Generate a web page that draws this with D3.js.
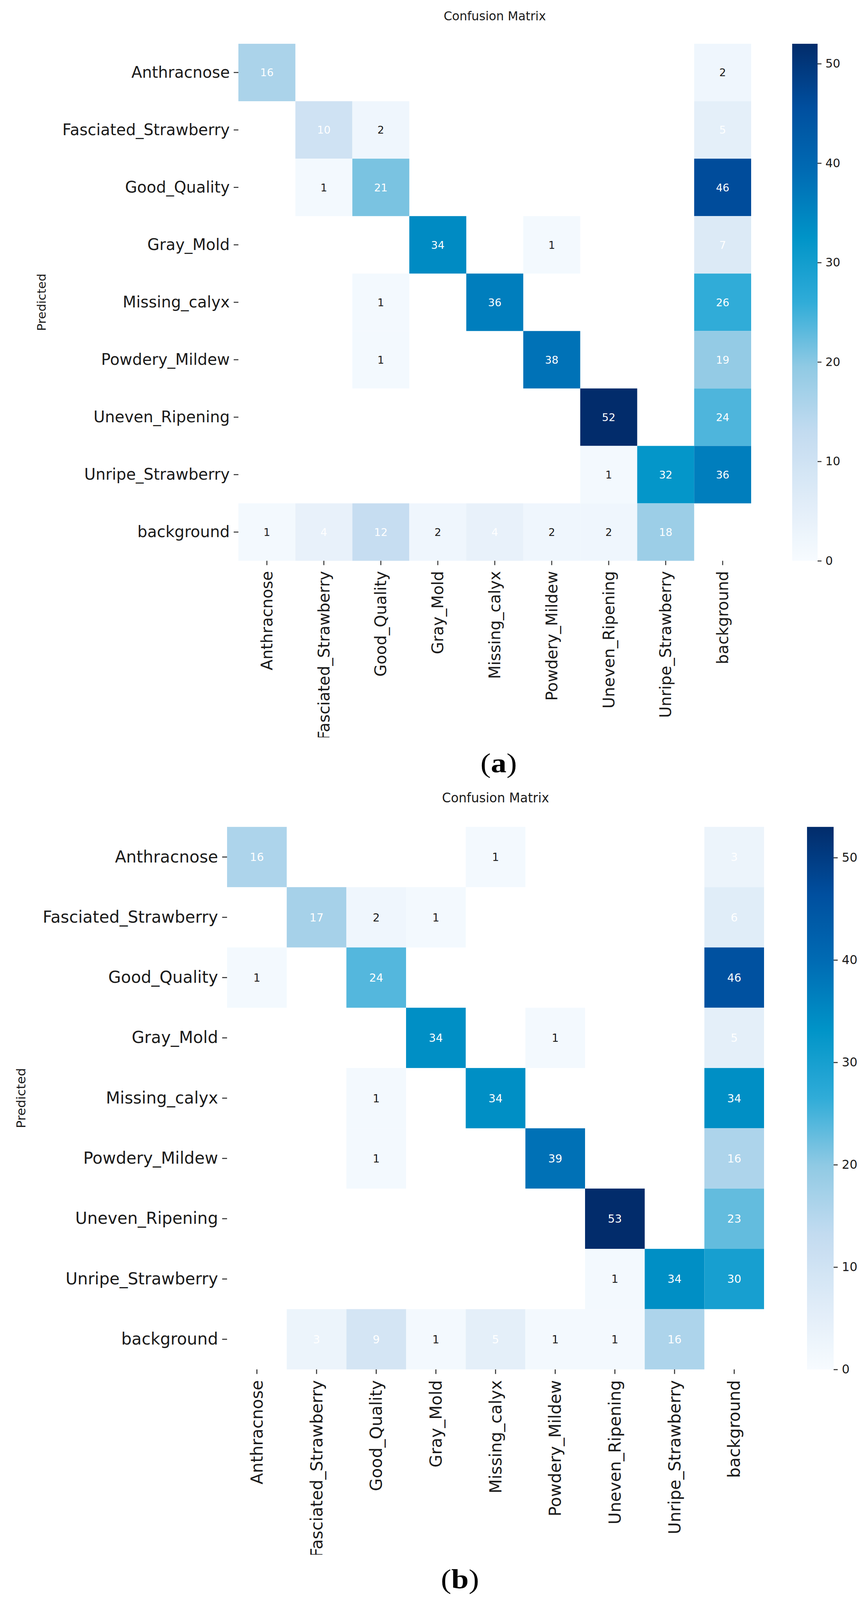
<!DOCTYPE html>
<html>
<head>
<meta charset="utf-8">
<script src="https://cdnjs.cloudflare.com/ajax/libs/d3/7.8.5/d3.min.js"></script>
<style>
  html, body { margin: 0; padding: 0; background: #fff; overflow: hidden; }
  svg { display: block; width: 100vw; height: 100vh; }
  text { font-family: "DejaVu Sans", sans-serif; }
  text.caption { font-family: "Liberation Serif", "DejaVu Serif", serif; }
</style>
</head>
<body>
<svg id="chart" viewBox="0 0 2221 4642" preserveAspectRatio="none"></svg>
<script>

// class names (rows = predicted, columns = true)
var classes = ["Anthracnose", "Fasciated_Strawberry", "Good_Quality", "Gray_Mold", "Missing_calyx",
               "Powdery_Mildew", "Uneven_Ripening", "Unripe_Strawberry", "background"];

// panel (a)
var matrixA = [
    [16, 0, 0, 0, 0, 0, 0, 0, 2],
    [0, 10, 2, 0, 0, 0, 0, 0, 5],
    [0, 1, 21, 0, 0, 0, 0, 0, 46],
    [0, 0, 0, 34, 0, 1, 0, 0, 7],
    [0, 0, 1, 0, 36, 0, 0, 0, 26],
    [0, 0, 1, 0, 0, 38, 0, 0, 19],
    [0, 0, 0, 0, 0, 0, 52, 0, 24],
    [0, 0, 0, 0, 0, 0, 1, 32, 36],
    [1, 4, 12, 2, 4, 2, 2, 18, 0]
];

// panel (b)
var matrixB = [
    [16, 0, 0, 0, 1, 0, 0, 0, 3],
    [0, 17, 2, 1, 0, 0, 0, 0, 6],
    [1, 0, 24, 0, 0, 0, 0, 0, 46],
    [0, 0, 0, 34, 0, 1, 0, 0, 5],
    [0, 0, 1, 0, 34, 0, 0, 0, 34],
    [0, 0, 1, 0, 0, 39, 0, 0, 16],
    [0, 0, 0, 0, 0, 0, 53, 0, 23],
    [0, 0, 0, 0, 0, 0, 1, 34, 30],
    [0, 3, 9, 1, 5, 1, 1, 16, 0]
];

var colorbarTicks = [0, 10, 20, 30, 40, 50];

// Blues, a bit more saturated like the printed figure
var blueStops = ["#f7fbff", "#deebf7", "#c2dbf0", "#90cae4", "#30acd8",
                 "#0094c8", "#006cb4", "#004f9f", "#022c6b"];

var svg = d3.select("#chart");
svg.append("rect").attr("width", 2221).attr("height", 4642).attr("fill", "#fff");
var defs = svg.append("defs");

drawMatrix({id: "a", data: matrixA, left: 610, top: 127, width: 1312, height: 1500, capX: 1276, capY: 2240});
drawMatrix({id: "b", data: matrixB, left: 581, top: 2399, width: 1374, height: 1574, capX: 1177, capY: 4608});

function drawMatrix(p) {
    // everything is drawn in a square "native" frame, then stretched like the figure
    var size = 1312,
        k = p.width / size,
        ky = p.height / p.width;

    defs.append("clipPath").attr("id", "clip-" + p.id)
        .append("rect")
        .attr("x", -640).attr("y", -160)
        .attr("width", 2400).attr("height", 1920);

    var g = svg.append("g")
        .attr("transform", "translate(" + p.left + "," + p.top + ") scale(" + k + "," + (k * ky) + ")")
        .append("g")
        .attr("clip-path", "url(#clip-" + p.id + ")");

    var vmax = d3.max(p.data, function (row) { return d3.max(row); });

    var color = d3.scaleLinear()
        .domain(blueStops.map(function (c, i) { return vmax * i / (blueStops.length - 1); }))
        .range(blueStops)
        .interpolate(d3.interpolateRgb);

    var x = d3.scaleBand().domain(classes).range([0, size]),
        y = d3.scaleBand().domain(classes).range([0, size]);

    var cells = [];
    p.data.forEach(function (row, i) {
        row.forEach(function (v, j) {
            if (v > 0) cells.push({pred: classes[i], truth: classes[j], value: v});
        });
    });

    g.selectAll(".cell")
        .data(cells)
        .enter().append("rect")
        .attr("class", "cell")
        .attr("x", function (d) { return x(d.truth); })
        .attr("y", function (d) { return y(d.pred); })
        .attr("width", x.bandwidth())
        .attr("height", y.bandwidth())
        .attr("fill", function (d) { return color(d.value); });

    g.selectAll(".annot")
        .data(cells)
        .enter().append("text")
        .attr("class", "annot")
        .attr("x", function (d) { return x(d.truth) + x.bandwidth() / 2; })
        .attr("y", function (d) { return y(d.pred) + y.bandwidth() / 2; })
        .attr("dy", "0.36em")
        .attr("text-anchor", "middle")
        .attr("font-size", 27)
        .attr("fill", function (d) { return d.value > 2 ? "#ffffff" : "#1a1a1a"; })
        .text(function (d) { return d.value; });

    // y axis
    var yAxis = g.append("g")
        .call(d3.axisLeft(y).tickSize(12).tickPadding(10));
    yAxis.attr("font-size", null).attr("font-family", null);
    yAxis.select(".domain").remove();
    yAxis.selectAll("line").attr("stroke", "#333").attr("stroke-width", 2.5);
    yAxis.selectAll("text").attr("font-size", 40).attr("fill", "#1a1a1a");

    // x axis, labels rotated
    var xAxis = g.append("g")
        .attr("transform", "translate(0," + size + ")")
        .call(d3.axisBottom(x).tickSize(11).tickPadding(0));
    xAxis.attr("font-size", null).attr("font-family", null);
    xAxis.select(".domain").remove();
    xAxis.selectAll("line").attr("stroke", "#333").attr("stroke-width", 2.5);
    xAxis.selectAll("text")
        .attr("x", 0)
        .attr("y", 0)
        .attr("dy", "0.35em")
        .attr("transform", "translate(0,26) rotate(-90)")
        .attr("text-anchor", "end")
        .attr("font-size", 40)
        .attr("fill", "#1a1a1a");

    // colorbar
    var gradId = "grad-" + p.id;
    var grad = defs.append("linearGradient")
        .attr("id", gradId)
        .attr("x1", 0).attr("y1", 1)
        .attr("x2", 0).attr("y2", 0);
    grad.selectAll("stop")
        .data(d3.range(0, 1.0001, 0.025))
        .enter().append("stop")
        .attr("offset", function (t) { return t; })
        .attr("stop-color", function (t) { return color(t * vmax); });

    var cbScale = d3.scaleLinear().domain([0, vmax]).range([size, 0]);
    var cb = g.append("g").attr("transform", "translate(1417,0)");
    cb.append("rect")
        .attr("width", 65)
        .attr("height", size)
        .attr("fill", "url(#" + gradId + ")");
    var cbAxis = cb.append("g")
        .attr("transform", "translate(65,0)")
        .call(d3.axisRight(cbScale).tickValues(colorbarTicks).tickSize(10).tickPadding(10));
    cbAxis.attr("font-size", null).attr("font-family", null);
    cbAxis.select(".domain").remove();
    cbAxis.selectAll("line").attr("stroke", "#333").attr("stroke-width", 2.5);
    cbAxis.selectAll("text").attr("font-size", 30).attr("fill", "#1a1a1a");

    // title and axis name
    g.append("text")
        .attr("x", size / 2)
        .attr("y", -70)
        .attr("dy", "0.35em")
        .attr("text-anchor", "middle")
        .attr("font-size", 31)
        .attr("fill", "#1a1a1a")
        .text("Confusion Matrix");

    g.append("text")
        .attr("transform", "translate(-504," + (size / 2) + ") rotate(-90)")
        .attr("dy", "0.35em")
        .attr("text-anchor", "middle")
        .attr("font-size", 31)
        .attr("fill", "#1a1a1a")
        .text("Predicted");

    // sub-figure caption
    var cap = svg.append("text")
        .attr("class", "caption")
        .attr("x", p.capX)
        .attr("y", p.capY)
        .attr("text-anchor", "middle")
        .attr("font-size", 80)
        .attr("fill", "#000");
    cap.append("tspan").text("(");
    cap.append("tspan").attr("font-weight", "bold").text(p.id);
    cap.append("tspan").text(")");
}

</script>
</body>
</html>
